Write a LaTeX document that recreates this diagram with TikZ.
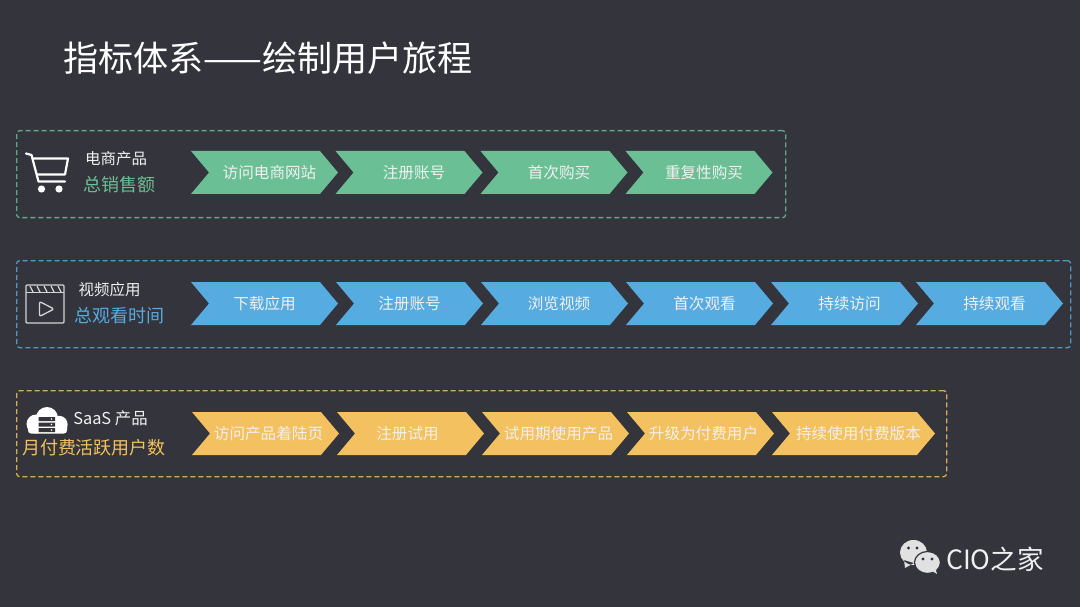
\documentclass[tikz,border=0pt]{standalone}
\usepackage{fontspec}
\setmainfont{Noto Sans CJK SC}
\usetikzlibrary{positioning,shapes.symbols}
\definecolor{paper}{RGB}{51,52,60}
\definecolor{ink}{RGB}{240,240,240}
\definecolor{green}{RGB}{106,191,148}
\definecolor{blue}{RGB}{86,172,224}
\definecolor{amber}{RGB}{243,193,95}
\newcommand{\nudge}[2]{\makebox[0pt]{\hspace*{#1pt}#2}}
\tikzset{
  title/.style={font=\fontsize{35.1}{36}\selectfont, text=white},
  stepBlock/.style={shape=signal, signal to=east, signal from=west, signal pointer angle=100,
    minimum width=147pt, minimum height=43pt, inner sep=0pt,
    font=\fontsize{15.6}{16}\selectfont, text=ink},
  greenStep/.style={stepBlock, fill=green},
  blueStep/.style={stepBlock, fill=blue},
  amberStep/.style={stepBlock, fill=amber},
  panelBox/.style={rounded corners=3pt, line width=1.3pt, dash pattern=on 5pt off 3pt, anchor=north west, inner sep=0pt},
  product/.style={font=\fontsize{15.5}{16}\selectfont, text=ink},
  metric/.style={font=\fontsize{18}{18}\selectfont},
  icon/.style={draw=white, line width=2.2pt, line join=round, line cap=round},
  clapper/.style={draw=ink!85!paper, line width=1.3pt, line join=round}
}
\begin{document}
\begin{tikzpicture}[x=1pt,y=-1pt]

% Background
\fill[paper] (0,0) rectangle (1080,607);
\useasboundingbox (0,0) rectangle (1080,607);

% Title
\node[title, anchor=west, inner sep=0pt] (mainTitle) at (63,58) {指标体系——绘制用户旅程};

% Panels
\node[panelBox, draw=green!85!paper, minimum width=769pt, minimum height=87pt] (shopPanel) at (16,130) {};
\node[panelBox, draw=blue!85!paper, minimum width=1054pt, minimum height=87pt] (videoPanel) at (16,260) {};
\node[panelBox, draw=amber!85!paper, minimum width=930pt, minimum height=86pt] (saasPanel) at (16,390) {};

% Row 1: shop
\node[product] (shopName) at (116,159) {电商产品};
\node[metric, text=green] (shopMetric) at (119,184.5) {总销售额};
\node[greenStep] (shopA) at (264.5,172.5) {\nudge{10}{访问电商网站}};
\node[greenStep] (shopB) at (409,172.5) {\nudge{10}{注册账号}};
\node[greenStep] (shopC) at (554,172.5) {\nudge{10}{首次购买}};
\node[greenStep] (shopD) at (699,172.5) {\nudge{10}{重复性购买}};

% Row 2: video
\node[product] (videoName) at (109.5,289.5) {视频应用};
\node[metric, text=blue] (videoMetric) at (119.5,315.5) {总观看时间};
\node[blueStep] (videoA) at (264.5,303.5) {\nudge{0}{下载应用}};
\node[blueStep] (videoB) at (409.5,303.5) {\nudge{0}{注册账号}};
\node[blueStep] (videoC) at (554.5,303.5) {\nudge{9}{浏览视频}};
\node[blueStep] (videoD) at (699.5,303.5) {\nudge{10}{首次观看}};
\node[blueStep] (videoE) at (844.5,303.5) {\nudge{10}{持续访问}};
\node[blueStep] (videoF) at (989.5,303.5) {\nudge{10}{持续观看}};

% Row 3: saas
\node[product, font=\fontsize{16.4}{17}\selectfont] (saasName) at (110.5,418) {SaaS 产品};
\node[metric, text=amber] (saasMetric) at (94,447.5) {月付费活跃用户数};
\node[amberStep] (saasA) at (265.5,433.5) {\nudge{6}{访问产品着陆页}};
\node[amberStep] (saasB) at (410.5,433.5) {\nudge{-6}{注册试用}};
\node[amberStep] (saasC) at (555.5,433.5) {\nudge{6}{试用期使用产品}};
\node[amberStep] (saasD) at (700.5,433.5) {\nudge{6}{升级为付费用户}};
\node[amberStep, minimum width=163pt] (saasE) at (853.5,433.5) {\nudge{10}{持续使用付费版本}};

% Cart icon
\draw[icon] (26,153.5) -- (31.5,155) -- (38.5,181.5) -- (65,181.5);
\draw[icon] (33,158.5) -- (68,158.5) -- (65,174.5) -- (37,174.5);
\fill[white] (41.5,189) circle (3.6) (59,189) circle (3.6);

% Clapper icon
\draw[clapper, rounded corners=1pt] (26,285) rectangle (64,323);
\draw[clapper] (26,292.5) -- (64,292.5);
\draw[clapper] (30,286) -- (33,292) (37,286) -- (40,292) (44,286) -- (47,292) (51,286) -- (54,292) (58,286) -- (61,292);
\draw[clapper, rounded corners=2pt] (39.5,301.5) -- (39.5,316.5) -- (54,309) -- cycle;

% Cloud icon
\fill[white] (36,424) circle (9.5) (47,418) circle (11) (59,424.5) circle (8.7);
\fill[white, rounded corners=3pt] (28,424) rectangle (67,433.5);
\fill[paper] (38.5,417) rectangle (55,421) (38.5,422.5) rectangle (55,426.5) (38.5,428) rectangle (55,432);
\fill[white] (51.5,419) circle (0.8) (51.5,424.5) circle (0.8) (51.5,430) circle (0.8);

% Chat icon
\fill[ink!92!paper] (913.5,552.5) ellipse (13.5 and 12.5) (904,560) -- (905,568) -- (914,563) -- cycle;
\fill[ink!92!paper, draw=paper, line width=1.2pt] (927.5,562.5) ellipse (13 and 11);
\fill[ink!92!paper] (932,571) -- (937,574) -- (935,567) -- cycle;
\fill[paper] (908.5,548) circle (1.6) (917,548) circle (1.6) (923,559) circle (1.6) (932,559) circle (1.6);
\node[anchor=west, font=\fontsize{26.6}{27}\selectfont, text=ink, inner sep=0pt] (brand) at (946,559.5) {CIO之家};

\end{tikzpicture}
\end{document}
